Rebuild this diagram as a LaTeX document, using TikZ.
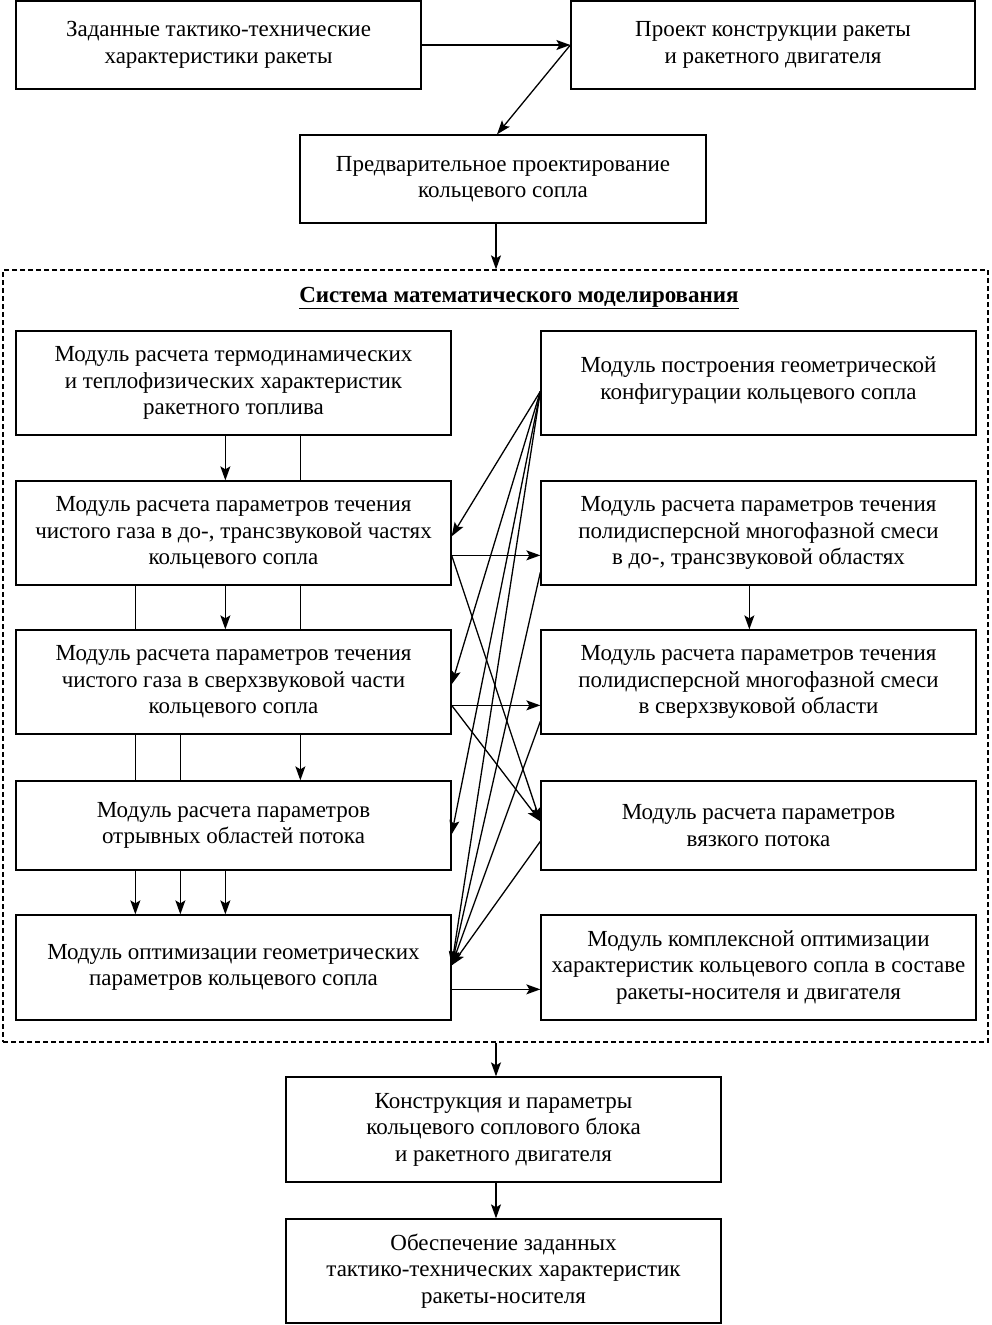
\documentclass[tikz,border=0pt]{standalone}
\usepackage{fontspec}
\setmainfont{Liberation Serif}
\usetikzlibrary{arrows.meta,calc}
\tikzset{
  box/.style={draw, line width=1.3pt, align=center, inner sep=0pt,
    font=\fontsize{23}{26.5}\selectfont},
  lbox/.style={box, minimum width=435pt},
  conn/.style={line width=1.3pt},
  arr/.style={conn, -{Stealth[length=14pt,width=10pt,inset=3pt]}},
  sysbox/.style={draw, line width=1.3pt, dash pattern=on 5pt off 3pt, inner sep=0pt}
}
\begin{document}
\begin{tikzpicture}[x=1pt,y=-1pt]
\useasboundingbox (0,0) rectangle (992,1325);
% top boxes
\node[box, minimum width=405pt, minimum height=88pt] (A) at (218.5,45) {Заданные тактико-технические\\характеристики ракеты};
\node[box, minimum width=404pt, minimum height=88pt] (B) at (773,45) {Проект конструкции ракеты\\и ракетного двигателя};
\node[box, minimum width=406pt, minimum height=88pt] (C) at (503,179) {Предварительное проектирование\\кольцевого сопла};
% system box
\node[sysbox, minimum width=985pt, minimum height=772pt] (S) at (495.5,656) {};
\node[font=\fontsize{23}{26.5}\selectfont\bfseries, inner sep=0pt] (T) at (519,298) {\underline{Система математического моделирования}};
% left column
\node[lbox, minimum height=104pt] (L1) at (233.5,383) {Модуль расчета термодинамических\\и теплофизических характеристик\\ракетного топлива};
\node[lbox, minimum height=104pt] (L2) at (233.5,533) {Модуль расчета параметров течения\\чистого газа в до-, трансзвуковой частях\\кольцевого сопла};
\node[lbox, minimum height=104pt] (L3) at (233.5,682) {Модуль расчета параметров течения\\чистого газа в сверхзвуковой части\\кольцевого сопла};
\node[lbox, minimum height=89pt] (L4) at (233.5,825.5) {Модуль расчета параметров\\отрывных областей потока};
\node[lbox, minimum height=105pt] (L5) at (233.5,967.5) {Модуль оптимизации геометрических\\параметров кольцевого сопла};
% right column
\node[lbox, minimum height=104pt] (R1) at (758.5,383) {Модуль построения геометрической\\конфигурации кольцевого сопла\\[-17pt]\mbox{}};
\node[lbox, minimum height=104pt] (R2) at (758.5,533) {Модуль расчета параметров течения\\полидисперсной многофазной смеси\\в до-, трансзвуковой областях};
\node[lbox, minimum height=104pt] (R3) at (758.5,682) {Модуль расчета параметров течения\\полидисперсной многофазной смеси\\в сверхзвуковой области};
\node[lbox, minimum height=89pt] (R4) at (758.5,825.5) {Модуль расчета параметров\\вязкого потока};
\node[lbox, minimum height=105pt] (R5) at (758.5,967.5) {Модуль комплексной оптимизации\\характеристик кольцевого сопла в составе\\ракеты-носителя и двигателя};
% bottom boxes
\node[box, minimum width=435pt, minimum height=105pt] (D) at (503.5,1129.5) {Конструкция и параметры\\кольцевого соплового блока\\и ракетного двигателя};
\node[box, minimum width=435pt, minimum height=104pt] (E) at (503.5,1271) {Обеспечение заданных\\тактико-технических характеристик\\ракеты-носителя};
% main vertical axis
\coordinate (cx) at (496,0);
% top connectors
\draw[arr] (A.east) -- (B.west);
\draw[arr] (B.west) -- ($(C.north)+(-6,0)$);
\draw[arr] (C.south -| cx) -- (S.north -| cx);
\draw[arr] (S.south -| cx) -- (D.north -| cx);
\draw[arr] (D.south -| cx) -- (E.north -| cx);
% left column verticals
\coordinate (x1) at ($(L1.south west)+(120,0)$);
\coordinate (x2) at ($(L1.south west)+(165,0)$);
\coordinate (x3) at ($(L1.south west)+(210,0)$);
\coordinate (x4) at ($(L1.south west)+(285,0)$);
\draw[arr] (L1.south -| x3) -- (L2.north -| x3);
\draw[conn] (L1.south -| x4) -- (L2.north -| x4);
\draw[conn] (L2.south -| x1) -- (L3.north -| x1);
\draw[arr] (L2.south -| x3) -- (L3.north -| x3);
\draw[conn] (L2.south -| x4) -- (L3.north -| x4);
\draw[conn] (L3.south -| x1) -- (L4.north -| x1);
\draw[conn] (L3.south -| x2) -- (L4.north -| x2);
\draw[arr] (L3.south -| x4) -- (L4.north -| x4);
\draw[arr] (L4.south -| x1) -- (L5.north -| x1);
\draw[arr] (L4.south -| x2) -- (L5.north -| x2);
\draw[arr] (L4.south -| x3) -- (L5.north -| x3);
% right column vertical
\coordinate (xr) at ($(R2.south west)+(209,0)$);
\draw[arr] (R2.south -| xr) -- (R3.north -| xr);
% connection points
\coordinate (r1o) at ($(R1.north west)+(0,61)$);
\coordinate (l2i) at ($(L2.north east)+(0,56)$);
\coordinate (l2o) at ($(L2.north east)+(0,75)$);
\coordinate (r2i) at ($(R2.north west)+(0,75)$);
\coordinate (r2o) at ($(R2.north west)+(0,92)$);
\coordinate (l3i) at ($(L3.north east)+(0,55)$);
\coordinate (l3o) at ($(L3.north east)+(0,76)$);
\coordinate (r3i) at ($(R3.north west)+(0,76)$);
\coordinate (r3o) at ($(R3.north west)+(0,92)$);
\coordinate (l4i) at ($(L4.north east)+(0,54)$);
\coordinate (r4i) at ($(R4.north west)+(0,41)$);
\coordinate (r4o) at ($(R4.north west)+(0,61)$);
\coordinate (l5i) at ($(L5.north east)+(0,51)$);
\coordinate (l5o) at ($(L5.north east)+(0,75)$);
\coordinate (r5i) at ($(R5.north west)+(0,75)$);
% cross connectors
\draw[arr] (r1o) -- (l2i);
\draw[arr] (r1o) -- (l3i);
\draw[arr] (r1o) -- (l4i);
\draw[arr] (r1o) -- (l5i);
\draw[arr] (l2o) -- (r2i);
\draw[arr] (l2o) -- (r4i);
\draw[arr] (l3o) -- (r3i);
\draw[arr] (l3o) -- (r4i);
\draw[arr] (r2o) -- (l5i);
\draw[arr] (r3o) -- (l5i);
\draw[arr] (r4o) -- (l5i);
\draw[arr] (l5o) -- (r5i);
\end{tikzpicture}
\end{document}
